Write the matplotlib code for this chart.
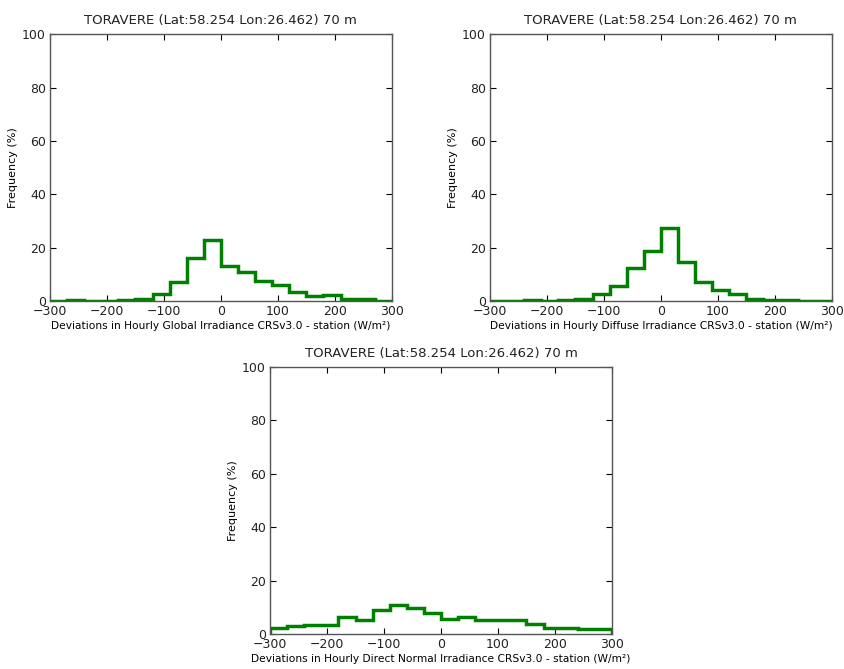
import matplotlib
matplotlib.use("Agg")
import matplotlib.pyplot as plt
import numpy as np

# --- histogram data (percent per 30 W/m2 bin, -300..300) ---
bin_edges = np.arange(-300, 301, 30)
global_freq = [0.2, 0.3, 0.1, 0.2, 0.5, 0.9, 2.7, 7.1, 16.0, 23.0,
               13.2, 10.9, 7.6, 5.9, 3.4, 1.8, 2.2, 0.8, 0.8, 0.1]
diffuse_freq = [0.0, 0.0, 0.25, 0.0, 0.4, 0.9, 2.8, 5.8, 12.3, 18.6,
                27.3, 14.6, 7.3, 4.0, 2.8, 0.9, 0.25, 0.25, 0.0, 0.0]
direct_freq = [2.3, 2.9, 3.3, 3.3, 6.4, 5.1, 8.9, 10.7, 9.9, 7.9,
               5.7, 6.2, 5.1, 5.1, 5.3, 3.7, 2.4, 2.4, 1.9, 1.9]

title = "TORAVERE (Lat:58.254 Lon:26.462) 70 m"
xlabels = ["Deviations in Hourly Global Irradiance CRSv3.0 - station (W/m\u00b2)",
           "Deviations in Hourly Diffuse Irradiance CRSv3.0 - station (W/m\u00b2)",
           "Deviations in Hourly Direct Normal Irradiance CRSv3.0 - station (W/m\u00b2)"]

plt.rcParams['text.color'] = '#222222'
plt.rcParams['xtick.labelcolor'] = '#222222'
plt.rcParams['ytick.labelcolor'] = '#222222'
plt.rcParams['xtick.direction'] = 'in'
plt.rcParams['ytick.direction'] = 'in'
plt.rcParams['xtick.top'] = True
plt.rcParams['ytick.right'] = True
plt.rcParams['xtick.major.size'] = 4
plt.rcParams['ytick.major.size'] = 4
plt.rcParams['axes.edgecolor'] = '#555555'
plt.rcParams['axes.linewidth'] = 1.0

fig = plt.figure(figsize=(8.44, 6.69), dpi=100)
w, h = 0.405, 0.399
rects = [[0.0592, 0.550, w, h], [0.5806, 0.550, w, h], [0.320, 0.0523, w, h]]

for rect, freq, xl in zip(rects, [global_freq, diffuse_freq, direct_freq], xlabels):
    ax = fig.add_axes(rect)
    ax.hist(bin_edges[:-1], bins=bin_edges, weights=freq, histtype='step',
            color='#008000', lw=2.5)
    ax.set_xlim(-300, 300)
    ax.set_ylim(0, 100)
    ax.set_xticks(range(-300, 301, 100))
    ax.set_yticks(range(0, 101, 20))
    ax.tick_params(pad=3, labelsize=9)
    ax.set_title(title, fontsize=9.5, pad=7)
    ax.set_xlabel(xl, fontsize=7.7, labelpad=2)
    ax.set_ylabel("Frequency (%)", fontsize=8, labelpad=3)

plt.savefig("out.png", dpi=100)
plt.close()
